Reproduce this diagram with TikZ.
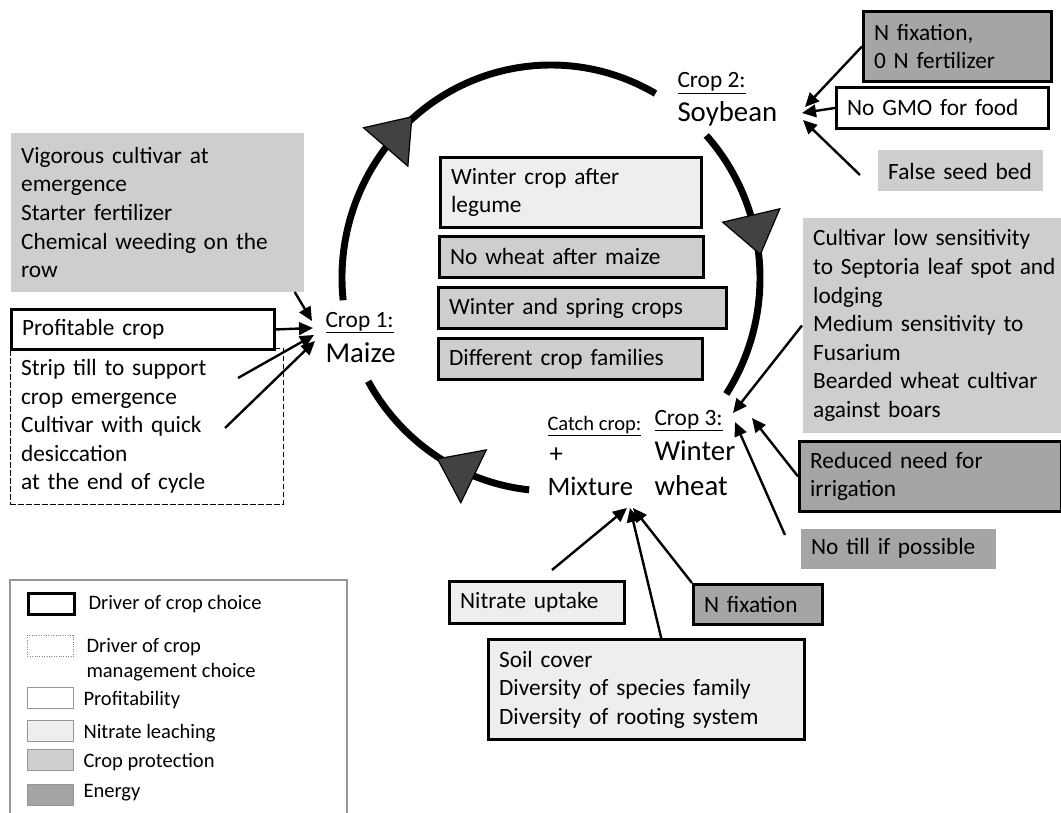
\documentclass[tikz,border=0pt]{standalone}
\usepackage{fontspec}
\setmainfont{Carlito}
\usetikzlibrary{arrows.meta,decorations.markings}

\definecolor{nitrate}{RGB}{238,238,238}
\definecolor{protect}{RGB}{206,206,206}
\definecolor{energy}{RGB}{165,165,165}
\definecolor{keyline}{RGB}{150,150,150}
\definecolor{cycletip}{RGB}{66,66,66}

\newcommand{\txt}{\fontsize{17.5}{21.4}\selectfont}
\newcommand{\crp}{\fontsize{21.6}{26}\selectfont}
\newcommand{\lgd}{\fontsize{15.4}{18.8}\selectfont}

\tikzset{every picture/.style={line width=0.75pt}}

\begin{document}
\begin{tikzpicture}[x=0.75pt,y=0.75pt,yscale=-1,xscale=1,
  cell/.style={anchor=north west, inner xsep=8pt, inner ysep=0pt, align=left, font=\txt},
  driver/.style={draw=black, line width=2.2pt},
  mgmt/.style={draw=black, dash pattern=on 4pt off 2pt, line width=0.6pt},
  feed/.style={line width=1.8pt, -{Triangle[length=10.5pt,width=9.5pt]}},
  cyclearc/.style={line width=5.2pt, postaction={decorate},
    decoration={markings, mark=at position #1 with {\filldraw[fill=cycletip, draw=black, line width=0.9pt] (20pt,0) -- (-10pt,22pt) -- (-10pt,-22pt) -- cycle;}}},
  swatch/.style={anchor=north west, draw=keyline, line width=0.8pt, minimum width=34.5pt, minimum height=16pt, inner sep=0pt},
  lbl/.style={anchor=base west, inner sep=0pt}
]
\useasboundingbox (0,0) rectangle (1061,813);

%Shape: Arc (rotation cycle)
\coordinate (hub) at (551,278);
\draw[cyclearc=0.38] ([shift={(174:209 and 213)}]hub) arc[start angle=174, end angle=300, x radius=209, y radius=213];
\draw[cyclearc=0.38] ([shift={(318:209 and 213)}]hub) arc[start angle=318, end angle=393, x radius=209, y radius=213];
\draw[cyclearc=0.35] ([shift={(96:209 and 213)}]hub) arc[start angle=96, end angle=151, x radius=209, y radius=213];

% Text Node (crops)
\node[lbl, font=\txt] (crop1) at (325,327) {\underline{Crop 1:}};
\node[lbl, font=\crp] (maize) at (325,362) {Maize};
\node[lbl, font=\txt] (crop2) at (677,88) {\underline{Crop 2:}};
\node[lbl, font=\crp] (soybean) at (677,122) {Soybean};
\node[lbl, font=\txt] (crop3) at (654,425) {\underline{Crop 3:}};
\node[lbl, font=\crp] (winter) at (654,460) {Winter};
\node[lbl, font=\crp] (wheat) at (654,495) {wheat};
\node[lbl, font=\lgd] (catch) at (547,430) {\underline{Catch crop:}};
\node[lbl, font=\fontsize{20}{24}\selectfont] (plus) at (549,462) {+};
\node[lbl, font=\fontsize{20}{24}\selectfont] (mixture) at (547,495) {Mixture};

%Shape: Rectangle (rotation rules)
\node[cell, driver, fill=nitrate, text width=179.75pt, minimum height=52.5pt] (legume) at (439,156) {Winter crop after\\legume};
\node[cell, driver, fill=protect, text width=182pt, minimum height=30.75pt] (nowheat) at (438,235) {No wheat after maize};
\node[cell, driver, fill=protect, text width=200pt, minimum height=30.75pt] (winspring) at (437,286) {Winter and spring crops};
\node[cell, driver, fill=protect, text width=182pt, minimum height=30.75pt] (families) at (437,337) {Different crop families};

%Shape: Rectangle (maize)
\node[cell, fill=protect, text width=203.75pt, minimum height=118.5pt] (maizeprot) at (10,133) {Vigorous cultivar at\\emergence\\Starter fertilizer\\Chemical weeding on the\\row};
\node[cell, mgmt, text width=188.75pt, minimum height=117pt] (stripbox) at (10,348) {Strip till to support\\crop emergence\\Cultivar with quick\\desiccation\\at the end of cycle};
\node[cell, driver, fill=white, text width=181.25pt, minimum height=30pt] (profit) at (10,308) {Profitable crop};

%Shape: Rectangle (soybean)
\node[cell, driver, fill=energy, text width=125pt, minimum height=52.5pt] (soyfix) at (862,10) {N fixation,\\0 N fertilizer};
\node[cell, driver, fill=white, text width=143pt, minimum height=30.75pt] (gmo) at (835,86) {No GMO for food};
\node[cell, fill=protect, text width=107.75pt, minimum height=30.75pt] (seedbed) at (877,150) {False seed bed};

%Shape: Rectangle (wheat)
\node[cell, fill=protect, text width=185pt, minimum height=160.5pt] (cultivar) at (802,218) {Cultivar low sensitivity\\to Septoria leaf spot and\\lodging\\Medium sensitivity to\\Fusarium\\Bearded wheat cultivar\\against boars};
\node[cell, driver, fill=energy, text width=180.5pt, minimum height=52.5pt] (reduced) at (798,440) {Reduced need for\\irrigation};
\node[cell, fill=energy, text width=130.25pt, minimum height=30pt] (notill) at (800,528) {No till if possible};

%Shape: Rectangle (catch crop)
\node[cell, driver, fill=nitrate, text width=115.25pt, minimum height=31.5pt] (uptake) at (448,580) {Nitrate uptake};
\node[cell, driver, fill=energy, text width=80.75pt, minimum height=30pt] (nfix) at (692,583) {N fixation};
\node[cell, driver, fill=nitrate, text width=221pt, minimum height=75pt] (soilcov) at (487,638) {Soil cover\\Diversity of species family\\Diversity of rooting system};

%Straight Lines (to maize)
\coordinate (maizeA) at (312,321);
\coordinate (maizeB) at (313,328);
\coordinate (maizeC) at (314,335);
\coordinate (maizeD) at (315,341);
\coordinate (stripend) at (238,378);
\coordinate (quickend) at (225,428);
\draw[feed] (maizeprot.-30) -- (maizeA);
\draw[feed] (profit.east) -- (maizeB);
\draw[feed] (stripend) -- (maizeC);
\draw[feed] (quickend) -- (maizeD);

%Straight Lines (to soybean)
\coordinate (soyA) at (805,107);
\coordinate (soyB) at (802,113);
\coordinate (soyC) at (803,120);
\coordinate (seedfoot) at (860,175);
\draw[feed] (soyfix.west) -- (soyA);
\draw[feed] (gmo.west) -- (soyB);
\draw[feed] (seedfoot) -- (soyC);

%Straight Lines (to wheat)
\coordinate (wheatA) at (733,413);
\coordinate (wheatB) at (752,418);
\coordinate (wheatC) at (735,422);
\coordinate (tillfoot) at (785,535);
\draw[feed] (cultivar.west) -- (wheatA);
\draw[feed] (reduced.west) -- (wheatB);
\draw[feed] (tillfoot) -- (wheatC);

%Straight Lines (to catch crop)
\coordinate (mixA) at (627,508);
\coordinate (mixB) at (630,508);
\coordinate (mixC) at (633,508);
\coordinate (uptakefoot) at (552,570);
\draw[feed] (uptakefoot) -- (mixA);
\draw[feed] (soilcov.74) -- (mixB);
\draw[feed] (nfix.north west) -- (mixC);

%Shape: Legend
\draw[keyline, line width=0.8pt] (10,813) -- (10,580) -- (347,580) -- (347,813);
\node[swatch, driver] (keydrv) at (27,592) {};
\node[swatch, draw=gray, densely dotted, line width=0.5pt] (keymgmt) at (27,635) {};
\node[swatch, fill=white] (keyprof) at (27,687) {};
\node[swatch, fill=nitrate] (keynit) at (27,720) {};
\node[swatch, fill=protect] (keyprot) at (27,749) {};
\node[swatch, fill=energy] (keyen) at (27,784) {};
% Text Node
\node[lbl, font=\lgd] (keydrvtxt) at (88,609) {Driver of crop choice};
\node[anchor=west, inner sep=0pt, align=left, font=\lgd] (keymgmttxt) at (86,660) {Driver of crop\\management choice};
\node[lbl, font=\lgd] (keyproftxt) at (83,705) {Profitability};
\node[lbl, font=\lgd] (keynittxt) at (83,738) {Nitrate leaching};
\node[lbl, font=\lgd] (keyprottxt) at (83,767) {Crop protection};
\node[lbl, font=\lgd] (keyentxt) at (83,797) {Energy};

\end{tikzpicture}
\end{document}
